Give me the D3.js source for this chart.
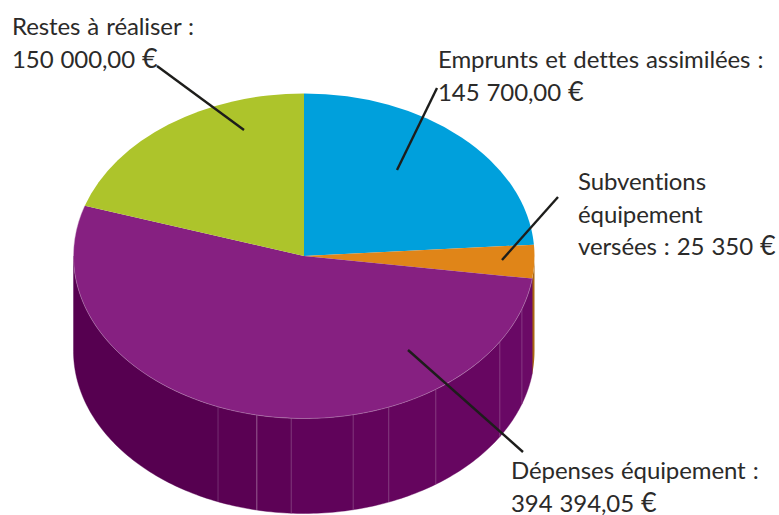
<!DOCTYPE html>
<html lang="fr">
<head>
    <meta charset="UTF-8">
    <title>Dépenses d'équipement</title>
    <style>
        body {
            margin: 0;
            padding: 0;
            background-color: #fff;
        }

        svg {
            display: block;
        }

        .label {
            font-family: Lato, sans-serif;
            font-size: 24px;
            word-spacing: 1px;
            letter-spacing: -0.1px;
            fill: #2b2a29;
        }

        .euro {
            font-size: 27px;
        }
    </style>
</head>
<body>

<svg width="779" height="515" id="chart"></svg>

<script src="https://d3js.org/d3.v7.min.js"></script>
<script>
    // Slices in drawing order, clockwise from 12 o'clock.
    // The sweeps are read off the picture, which does not follow the euro amounts.
    const categories = ["Emprunts et dettes assimilées", "Subventions équipement", "Dépenses équipement", "Restes à réaliser"];
    const sweeps = [86, 12, 190, 72];
    const topColors = ["#00a0dc", "#e08518", "#862081", "#adc42b"];
    const labelLines = [
        ["Emprunts et dettes assimilées :", "145 700,00 €"],
        ["Subventions", "équipement", "versées : 25 350 €"],
        ["Dépenses équipement :", "394 394,05 €"],
        ["Restes à réaliser :", "150 000,00 €"]
    ];

    // Side wall panels, angles in degrees where the panels meet
    const panelAngles = [98, 109, 121.8, 145.1, 158.4, 167.7, 183.2, 191.8, 201.9, 270];
    const panelColors = ["#6b0a66", "#690865", "#670661", "#65055e", "#63045c", "#60035a", "#5d0256", "#5a0153", "#560050"];
    const orangeWallColor = "#a9650f";

    // Layout only
    const cx = 304, cy = 256, rx = 230.5, ry = 162.5, depth = 95;
    const labelPos = [
        { x: 438, y: 68 },
        { x: 578, y: 190 },
        { x: 511, y: 479 },
        { x: 12, y: 35 }
    ];
    const lineHeight = 32.5;
    const leaders = [
        [[437, 88], [397, 170]],
        [[558, 197], [502, 260]],
        [[408, 350], [523, 452]],
        [[157, 66], [244, 130]]
    ];

    const svg = d3.select("#chart");
    const rad = d3.scaleLinear().domain([0, 360]).range([0, 2 * Math.PI]);

    // Point on the rim of the disc, lifted or dropped by offset
    const rim = (deg, offset) => [
        cx + rx * Math.sin(rad(deg)),
        cy - ry * Math.cos(rad(deg)) + offset
    ];
    const line = d3.line();

    function wallPath(from, to) {
        const steps = d3.range(from, to, 1).concat([to]);
        const upper = steps.map(d => rim(d, 0));
        const lower = steps.slice().reverse().map(d => rim(d, depth));
        return line(upper.concat(lower)) + "Z";
    }

    // Side wall
    const walls = svg.append("g");

    walls.append("path")
        .attr("d", wallPath(90, 98.5))
        .attr("fill", orangeWallColor);

    walls.selectAll("path.panel")
        .data(panelColors)
        .enter().append("path")
        .attr("class", "panel")
        .attr("d", (d, i) => wallPath(panelAngles[i], panelAngles[i + 1]))
        .attr("fill", d => d)
        .attr("stroke", d => d)
        .attr("stroke-width", 0.4);

    // Light seams between the panels
    walls.selectAll("line.seam")
        .data(panelAngles.slice(1, -1))
        .enter().append("line")
        .attr("class", "seam")
        .attr("x1", d => rim(d, 0)[0])
        .attr("y1", d => rim(d, 0)[1])
        .attr("x2", d => rim(d, depth)[0])
        .attr("y2", d => rim(d, depth)[1])
        .attr("stroke", "#fff")
        .attr("stroke-opacity", (d, i) => i === 6 ? 0.32 : 0.18)
        .attr("stroke-width", 1);

    // Top of the disc: a flat pie squashed into an ellipse
    const pie = d3.pie().sort(null).value(d => d);
    const arc = d3.arc().innerRadius(0).outerRadius(rx);

    const disc = svg.append("g")
        .attr("transform", `translate(${cx},${cy}) scale(1,${ry / rx})`);

    disc.selectAll("path")
        .data(pie(sweeps))
        .enter().append("path")
        .attr("d", arc)
        .attr("fill", (d, i) => topColors[i]);

    // Thin pale line along the front rim of the purple slice
    svg.append("path")
        .attr("d", line(d3.range(98, 288.5, 1).map(d => rim(d, 0))))
        .attr("fill", "none")
        .attr("stroke", "#c9a4c8")
        .attr("stroke-opacity", 0.6)
        .attr("stroke-width", 0.7);

    // Leader lines
    svg.selectAll("path.leader")
        .data(leaders)
        .enter().append("path")
        .attr("class", "leader")
        .attr("d", d => line(d))
        .attr("fill", "none")
        .attr("stroke", "#1d1d1b")
        .attr("stroke-width", 2.4);

    // Labels, the euro sign is wider in the reference
    const labels = svg.selectAll("text.label")
        .data(categories)
        .enter().append("text")
        .attr("class", "label")
        .attr("x", (d, i) => labelPos[i].x)
        .attr("y", (d, i) => labelPos[i].y);

    labels.selectAll("tspan")
        .data((d, i) => labelLines[i].map(t => ({ text: t, x: labelPos[i].x })))
        .enter().append("tspan")
        .attr("x", d => d.x)
        .attr("dy", (d, i) => i === 0 ? 0 : lineHeight)
        .html(d => d.text.replace("€", '<tspan class="euro">€</tspan>'));
</script>

</body>
</html>
